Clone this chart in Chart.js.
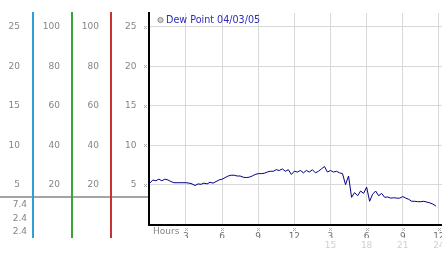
<!DOCTYPE html>
<html>
<head>
<meta charset="utf-8">
<script src="https://cdn.jsdelivr.net/npm/chart.js@4"></script>
<style>
  html, body { margin: 0; padding: 0; background: #fff; }
  #chart { display: block; }
</style>
</head>
<body>
<canvas id="chart" width="442" height="253"></canvas>
<script>
// dew point readings, one every 15 minutes
var hours = [0, 0.25, 0.5, 0.75, 1, 1.25, 1.5, 1.75, 2, 2.25, 2.5, 2.75,
  3, 3.25, 3.5, 3.75, 4, 4.25, 4.5, 4.75, 5, 5.25, 5.5, 5.75,
  6, 6.25, 6.5, 6.75, 7, 7.25, 7.5, 7.75, 8, 8.25, 8.5, 8.75,
  9, 9.25, 9.5, 9.75, 10, 10.25, 10.5, 10.75, 11, 11.25, 11.5, 11.75,
  12, 12.25, 12.5, 12.75, 13, 13.25, 13.5, 13.75, 14, 14.25, 14.5, 14.75,
  15, 15.25, 15.5, 15.75, 16, 16.25, 16.5, 16.75, 17, 17.25, 17.5, 17.75,
  18, 18.25, 18.5, 18.75, 19, 19.25, 19.5, 19.75, 20, 20.25, 20.5, 20.75,
  21, 21.25, 21.5, 21.75, 22, 22.25, 22.5, 22.75, 23, 23.25, 23.5, 23.75];
var dewPoint = [5.2, 5.6, 5.5, 5.7, 5.5, 5.7, 5.6, 5.4, 5.25, 5.25, 5.25, 5.25,
  5.25, 5.2, 5.1, 4.9, 5.1, 5.05, 5.2, 5.1, 5.3, 5.2, 5.4, 5.6,
  5.7, 5.9, 6.1, 6.2, 6.2, 6.1, 6.1, 5.95, 5.9, 5.95, 6.1, 6.3,
  6.4, 6.4, 6.45, 6.6, 6.7, 6.7, 6.9, 6.8, 7.0, 6.7, 6.9, 6.3,
  6.7, 6.6, 6.8, 6.5, 6.8, 6.6, 6.9, 6.5, 6.7, 7.0, 7.3, 6.6,
  6.8, 6.6, 6.7, 6.5, 6.4, 5.0, 6.1, 3.4, 4.0, 3.6, 4.2, 3.9,
  4.7, 2.9, 3.8, 4.2, 3.6, 3.9, 3.4, 3.45, 3.3, 3.35, 3.3, 3.3,
  3.5, 3.3, 3.15, 2.9, 2.9, 2.85, 2.85, 2.9, 2.8, 2.7, 2.55, 2.3];
var seriesLabel = 'Dew Point 04/03/05';

var hourTicks = [3, 6, 9, 12, 15, 18, 21, 24];
var hourLabels = ['3', '6', '9', '12', '3', '6', '9', '12'];
var lateTicks = [15, 18, 21, 24];
var lateLabels = ['15', '18', '21', '24'];
var tempTicks = [5, 10, 15, 20, 25];
var pctTicks = [20, 40, 60, 80, 100];
var readouts = ['7.4', '2.4', '2.4'];
var axisColors = { y1: '#2f9fd8', y2: '#35a635', y3: '#c83232' };

var tickFont = { family: 'DejaVu Sans', size: 9 };
var tickGray = '#858585';

function fixTicks(list) {
  return function(scale) {
    scale.ticks = list.map(function(v) { return { value: v }; });
  };
}
// fixed box sizes, and no extra room for half labels
function fixWidth(w) {
  return function(scale) {
    scale.width = w;
    scale.paddingTop = 0;
    scale.paddingBottom = 0;
  };
}
function fixHeight(h) {
  return function(scale) {
    scale.height = h;
    scale.paddingLeft = 0;
    scale.paddingRight = 0;
  };
}

// one of the extra left-hand axes (only a scale and a coloured line)
function sideAxis(list, max, weight, width, pad, color) {
  return {
    position: 'left',
    weight: weight,
    min: -max * 0.1 / 26.73,
    max: max,
    afterBuildTicks: fixTicks(list),
    afterFit: fixWidth(width),
    grid: { display: false, drawTicks: false },
    border: { display: true, color: color, width: 2 },
    ticks: { color: tickGray, font: tickFont, padding: pad }
  };
}

// little grey tick marks, readouts, legend etc.
var extras = {
  id: 'extras',
  beforeDraw: function(chart) {
    var ctx = chart.ctx;
    ctx.save();
    ctx.fillStyle = '#a3a3a3';
    ctx.fillRect(0, 196, chart.chartArea.left - 1, 2);
    ctx.restore();
  },
  afterDraw: function(chart) {
    var ctx = chart.ctx;
    var area = chart.chartArea;
    ctx.save();

    // colored axis lines run on below the plot
    ['y1', 'y2', 'y3'].forEach(function(id) {
      var s = chart.scales[id];
      var x = Math.round(s.right - 1) + 1;
      ctx.strokeStyle = axisColors[id];
      ctx.lineWidth = 2;
      ctx.beginPath();
      ctx.moveTo(x, area.bottom);
      ctx.lineTo(x, 238);
      ctx.stroke();
    });

    // readout values under the grey bar
    ctx.fillStyle = tickGray;
    ctx.font = '9px "DejaVu Sans"';
    ctx.textAlign = 'right';
    ctx.textBaseline = 'middle';
    readouts.forEach(function(t, i) {
      ctx.fillText(t, 27, 205 + i * 13.5);
    });

    ctx.textAlign = 'left';
    ctx.fillText('Hours', 153, 231.5);

    // dotted tick markers
    ctx.fillStyle = '#b0b0b0';
    function mark(cx, cy) {
      var pts = [[-1, -1], [1, -1], [0, 0], [-1, 1], [1, 1]];
      pts.forEach(function(p) { ctx.fillRect(Math.round(cx) + p[0], Math.round(cy) + p[1], 1, 1); });
    }
    var y = chart.scales.y, xs = chart.scales.x;
    tempTicks.forEach(function(v) { mark(area.left - 4, y.getPixelForValue(v)); });
    hourTicks.forEach(function(v) { mark(xs.getPixelForValue(v), area.bottom + 4); });

    // legend
    ctx.beginPath();
    ctx.arc(160.5, 20, 2.6, 0, Math.PI * 2);
    ctx.fillStyle = '#d0d0d0';
    ctx.fill();
    ctx.strokeStyle = '#8c8c8c';
    ctx.lineWidth = 1;
    ctx.stroke();
    ctx.fillStyle = '#2b2bbd';
    ctx.font = '9.6px "DejaVu Sans"';
    ctx.textAlign = 'left';
    ctx.textBaseline = 'middle';
    ctx.fillText(chart.data.datasets[0].label, 166, 20.5);

    ctx.restore();
  }
};

new Chart(document.getElementById('chart'), {
  type: 'line',
  data: {
    datasets: [{
      label: seriesLabel,
      data: hours.map(function(h, i) { return { x: h, y: dewPoint[i] }; }),
      borderColor: '#000088',
      borderWidth: 1,
      pointRadius: 0,
      tension: 0,
      fill: false
    }]
  },
  options: {
    responsive: false,
    animation: false,
    devicePixelRatio: 1,
    layout: { padding: { top: 13, left: 0, right: 0, bottom: 0 } },
    plugins: { legend: { display: false }, tooltip: { enabled: false } },
    scales: {
      x: {
        type: 'linear',
        position: 'bottom',
        min: -0.07,
        max: 24.26,
        afterBuildTicks: fixTicks(hourTicks),
        afterFit: fixHeight(13),
        grid: { color: '#d9d9d9', drawTicks: false },
        border: { color: '#000', width: 2 },
        ticks: {
          color: '#6e6e6e', font: tickFont, padding: 6.5, maxRotation: 0, autoSkip: false,
          callback: function(v) { return hourLabels[hourTicks.indexOf(v)]; }
        }
      },
      x2: {
        type: 'linear',
        position: 'bottom',
        min: -0.07,
        max: 24.26,
        afterBuildTicks: fixTicks(lateTicks),
        afterFit: fixHeight(15),
        grid: { display: false, drawTicks: false },
        border: { display: false },
        ticks: {
          color: '#cfcfcf', font: tickFont, padding: 2, maxRotation: 0, autoSkip: false,
          callback: function(v) { return lateLabels[lateTicks.indexOf(v)]; }
        }
      },
      y: {
        position: 'left',
        weight: 0,
        min: -0.1,
        max: 26.73,
        afterBuildTicks: fixTicks(tempTicks),
        afterFit: fixWidth(38),
        grid: { color: '#d9d9d9', drawTicks: false },
        border: { color: '#000', width: 2 },
        ticks: { color: tickGray, font: tickFont, padding: 12.5 }
      },
      y3: sideAxis(pctTicks, 106.92, 1, 39, 12, axisColors.y3),
      y2: sideAxis(pctTicks, 106.92, 2, 39, 12, axisColors.y2),
      y1: sideAxis(tempTicks, 26.73, 3, 33, 13, axisColors.y1)
    }
  },
  plugins: [extras]
});
</script>
</body>
</html>
